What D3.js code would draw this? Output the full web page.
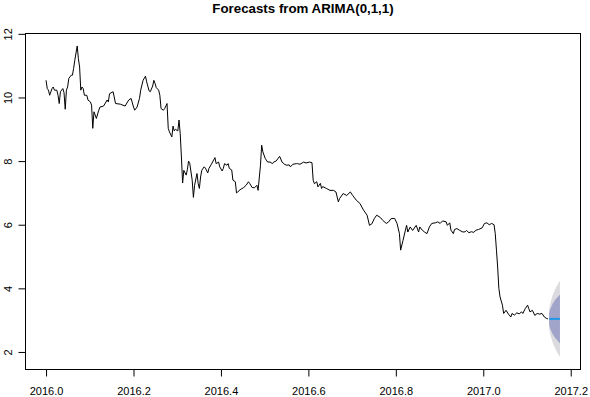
<!DOCTYPE html>
<html>
<head>
<meta charset="utf-8">
<script src="https://cdn.jsdelivr.net/npm/d3@7"></script>
<style>
body { margin: 0; background: #fff; }
text { font-family: "Liberation Sans", Arial, Helvetica, sans-serif; }
</style>
</head>
<body>
<script>
// daily series, frequency 365, starting at 2016.0
var startYear = 2016;
var freq = 365;

// day offset from start of series
var obsDay = [0,1,2,3,5,6,7,9,10,11,12,14,15,16,17,18,19,21,22,23,24,26,27,28,29,30,31,32,34,35,37,38,39,40,41,42,44,45,
	48,51,52,53,56,58,62,66,69,71,73,74,76,78,79,81,83,84,86,87,89,90,91,92,94,95,96,98,99,101,102,103,105,106,107,108,110,111,112,113,114,115,117,118,119,120,122,123,124,126,127,128,129,130,132,133,135,136,138,139,
	141,142,144,145,147,148,149,151,152,153,155,156,158,159,160,162,165,167,169,170,172,174,176,177,179,180,181,183,185,187,189,190,192,195,197,199,
	201,203,204,206,209,210,212,215,217,220,222,223,224,226,227,229,230,231,234,237,240,242,244,245,248,251,254,256,259,262,265,268,270,272,274,276,279,281,284,286,288,291,293,295,296,298,
	300,301,302,304,306,309,311,312,314,316,318,320,322,325,327,329,331,334,335,337,338,340,341,343,345,348,350,351,353,355,357,359,361,364,366,368,370,372,374,375,376,377,378,379,381,382,384,386,388,389,391,393,395,397,398,
	400,402,403,404,406,408,410,412,414,416,418,419];

var obsValue = [10.54,10.28,10.23,10.07,10.28,10.33,10.23,10.23,10.07,9.81,10.18,10.28,10.15,9.63,10.23,10.33,10.6,10.7,10.7,10.91,11.17,11.62,11.22,10.96,10.23,10.33,10.28,10.07,10.07,9.92,9.86,9.76,9.03,9.55,9.45,9.34,9.6,9.7,
	9.73,9.92,9.86,10.12,10.18,9.81,9.79,9.73,9.92,9.97,9.7,9.6,9.7,9.97,10.23,10.54,10.67,10.49,10.21,10.18,10.36,10.54,10.44,10.31,10.23,10.07,9.65,9.6,9.65,9.81,9.03,8.92,8.76,9.1,8.95,9.0,8.95,9.29,8.87,8.13,7.31,7.71,7.56,7.74,8.0,7.92,7.4,6.86,7.24,7.61,7.29,7.14,7.5,7.71,7.82,7.78,7.63,7.77,7.9,7.97,
	8.11,7.92,7.97,7.82,7.69,7.77,7.92,7.87,7.92,7.77,7.72,7.4,7.35,7.0,7.03,7.1,7.17,7.24,7.35,7.3,7.17,7.16,7.24,7.08,7.87,8.5,8.29,8.08,7.97,7.97,7.92,7.97,8.0,8.15,7.97,7.9,
	7.87,7.88,7.82,7.9,7.92,7.92,7.9,7.97,7.94,7.97,7.95,7.4,7.29,7.35,7.19,7.3,7.14,7.2,7.14,7.08,7.08,7.03,6.72,6.82,6.98,6.92,7.03,6.92,6.77,6.67,6.46,6.3,5.98,6.03,6.19,6.3,6.23,6.14,6.04,6.09,6.19,6.2,6.04,5.72,5.2,5.51,
	5.83,5.98,5.77,5.93,5.82,5.98,5.77,5.93,5.83,5.77,5.72,5.93,6.04,6.06,6.09,6.04,6.12,6.09,5.98,6.06,5.83,5.72,5.85,5.88,5.83,5.77,5.78,5.82,5.75,5.78,5.76,5.83,5.85,5.9,6.04,6.06,6.0,6.04,6.0,5.72,5.2,4.67,4.0,3.73,3.47,3.21,3.31,3.19,3.1,3.21,3.16,3.23,3.2,3.26,3.21,
	3.36,3.47,3.36,3.26,3.31,3.15,3.21,3.19,3.21,3.1,3.05,3.04];

// 10 day forecast
var fcDay = [420,421,422,423,424,425,426,427,428,429];
var fcMean = [3.04,3.04,3.04,3.04,3.04,3.04,3.04,3.04,3.04,3.04];
var lo80 = [2.85,2.72,2.64,2.56,2.50,2.44,2.40,2.36,2.31,2.27];
var hi80 = [3.23,3.36,3.44,3.52,3.58,3.64,3.68,3.72,3.77,3.81];
var lo95 = [2.74,2.54,2.41,2.29,2.20,2.11,2.04,1.97,1.90,1.84];
var hi95 = [3.34,3.54,3.67,3.79,3.88,3.97,4.04,4.11,4.18,4.24];

var xTicks = [2016.0,2016.2,2016.4,2016.6,2016.8,2017.0,2017.2];
var yTicks = [2,4,6,8,10,12];
var title = "Forecasts from ARIMA(0,1,1)";

var width = 590, height = 397;
var plotLeft = 25.5, plotRight = 580.5, plotTop = 33.5, plotBottom = 369.5;

function toYear(d) { return startYear + d / freq; }

var obs = obsDay.map(function(d, i) { return {t: toYear(d), v: obsValue[i]}; });
var fc = fcDay.map(function(d, i) {
	return {t: toYear(d), m: fcMean[i], l80: lo80[i], h80: hi80[i], l95: lo95[i], h95: hi95[i]};
});

// R style 4% padding on both axes
var tMin = obs[0].t, tMax = fc[fc.length - 1].t;
var vMin = d3.min(lo95), vMax = d3.max(obsValue);
var tPad = (tMax - tMin) * 0.04, vPad = (vMax - vMin) * 0.04;

var x = d3.scaleLinear().domain([tMin - tPad, tMax + tPad]).range([plotLeft, plotRight]);
var y = d3.scaleLinear().domain([vMin - vPad, vMax + vPad]).range([plotBottom, plotTop]);

var svg = d3.select("body").append("svg")
	.attr("width", width)
	.attr("height", height);

svg.append("rect")
	.attr("width", width)
	.attr("height", height)
	.attr("fill", "#fff");

// prediction intervals
var area95 = d3.area()
	.x(function(d) { return x(d.t); })
	.y0(function(d) { return y(d.l95); })
	.y1(function(d) { return y(d.h95); });

var area80 = d3.area()
	.x(function(d) { return x(d.t); })
	.y0(function(d) { return y(d.l80); })
	.y1(function(d) { return y(d.h80); });

svg.append("path").datum(fc).attr("d", area95).attr("fill", "#DBDBDF");
svg.append("path").datum(fc).attr("d", area80).attr("fill", "#A1A4C9");

// observed series
var line = d3.line()
	.x(function(d) { return x(d.t); })
	.y(function(d) { return y(d.v); });

svg.append("path")
	.datum(obs)
	.attr("d", line)
	.attr("fill", "none")
	.attr("stroke", "#000")
	.attr("stroke-width", 1)
	.attr("stroke-linejoin", "round");

// point forecasts
var fline = d3.line()
	.x(function(d) { return x(d.t); })
	.y(function(d) { return y(d.m); });

svg.append("path")
	.datum(fc)
	.attr("d", fline)
	.attr("fill", "none")
	.attr("stroke", "#2297E6")
	.attr("stroke-width", 2);

// box
svg.append("rect")
	.attr("x", plotLeft)
	.attr("y", plotTop)
	.attr("width", plotRight - plotLeft)
	.attr("height", plotBottom - plotTop)
	.attr("fill", "none")
	.attr("stroke", "#000")
	.attr("stroke-width", 1);

// x axis
var xAxis = svg.append("g")
	.attr("transform", "translate(0," + plotBottom + ")")
	.call(d3.axisBottom(x).tickValues(xTicks).tickFormat(d3.format(".1f")).tickSize(7).tickSizeOuter(0));
xAxis.select(".domain").remove();
xAxis.append("line")
	.attr("x1", x(xTicks[0])).attr("x2", x(xTicks[xTicks.length - 1]))
	.attr("stroke", "#000");
xAxis.selectAll(".tick line").attr("stroke", "#000");
xAxis.selectAll("text")
	.attr("y", 25.5)
	.attr("dy", 0)
	.attr("fill", "#000")
	.style("font-size", "11px")
	.style("font-family", "'Liberation Sans', Arial, sans-serif");

// y axis
var yAxis = svg.append("g")
	.attr("transform", "translate(" + plotLeft + ",0)")
	.call(d3.axisLeft(y).tickValues(yTicks).tickFormat(d3.format("d")).tickSize(7).tickSizeOuter(0));
yAxis.select(".domain").remove();
yAxis.append("line")
	.attr("y1", y(yTicks[0])).attr("y2", y(yTicks[yTicks.length - 1]))
	.attr("stroke", "#000");
yAxis.selectAll(".tick line").attr("stroke", "#000");
yAxis.selectAll("text")
	.attr("transform", "rotate(-90)")
	.attr("x", 0)
	.attr("y", -13.5)
	.attr("dy", 0)
	.attr("text-anchor", "middle")
	.attr("fill", "#000")
	.style("font-size", "11px")
	.style("font-family", "'Liberation Sans', Arial, sans-serif");

// title
svg.append("text")
	.attr("x", (plotLeft + plotRight) / 2)
	.attr("y", 13)
	.attr("text-anchor", "middle")
	.style("font-size", "13.3px")
	.style("font-weight", "bold")
	.text(title);
</script>
</body>
</html>
